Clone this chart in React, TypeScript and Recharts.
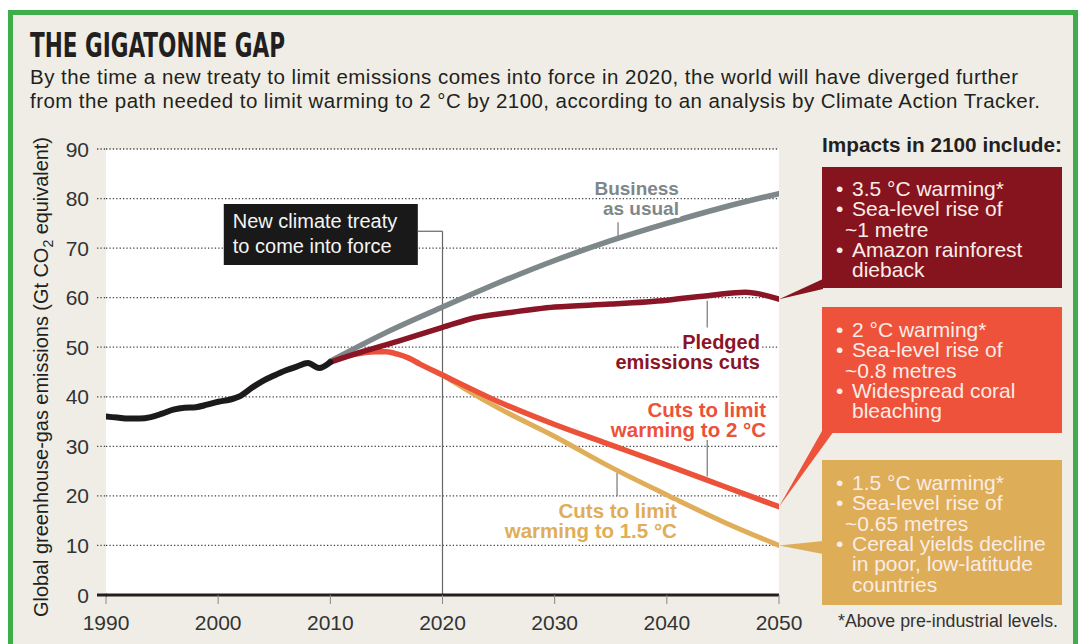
import React from 'react'
import {
  LineChart,
  Line,
  XAxis,
  YAxis,
  CartesianGrid,
  ReferenceLine,
  ReferenceArea,
  ReferenceDot,
} from 'recharts'

const FONT = '"Liberation Sans", Arial, sans-serif'
const INK = '#231f20'

// emissions, Gt CO2 equivalent
const historyYears = [1990, 1991, 1992, 1993, 1994, 1995, 1996, 1997, 1998, 1999, 2000, 2001, 2002, 2003, 2004, 2005, 2006, 2007, 2008, 2009, 2010]
const historyValues = [36.0, 35.8, 35.6, 35.6, 35.9, 36.6, 37.4, 37.8, 37.9, 38.4, 39.0, 39.4, 40.2, 41.8, 43.2, 44.3, 45.3, 46.1, 46.8, 45.8, 47.0]

const bauYears = [2010, 2015, 2020, 2025, 2030, 2035, 2040, 2045, 2050]
const bauValues = [47.2, 53.0, 58.1, 63.0, 67.5, 71.5, 75.0, 78.2, 81.0]

const pledgedYears = [2010, 2013, 2016, 2020, 2023, 2026, 2030, 2035, 2040, 2044, 2047, 2050]
const pledgedValues = [47.0, 49.2, 51.2, 54.0, 56.0, 57.0, 58.1, 58.7, 59.5, 60.5, 61.1, 59.7]

const twoDegYears = [2010, 2012, 2014, 2015, 2016, 2017, 2018, 2020, 2025, 2030, 2035, 2040, 2045, 2050]
const twoDegValues = [47.2, 48.5, 49.1, 49.1, 48.6, 47.8, 46.6, 44.4, 39.0, 34.4, 30.3, 26.2, 22.0, 17.8]

const onePointFiveYears = [2020, 2022, 2025, 2030, 2035, 2040, 2045, 2050]
const onePointFiveValues = [44.4, 41.6, 37.7, 32.0, 25.8, 20.2, 14.8, 10.0]

const xTicks = [1990, 2000, 2010, 2020, 2030, 2040, 2050]
const yTicks = [0, 10, 20, 30, 40, 50, 60, 70, 80, 90]

const subtitleLines = [
  'By the time a new treaty to limit emissions comes into force in 2020, the world will have diverged further',
  'from the path needed to limit warming to 2 °C by 2100, according to an analysis by Climate Action Tracker.',
]

const impacts35 = ['• 3.5 °C warming*', '• Sea-level rise of', '  ~1 metre', '• Amazon rainforest', '  dieback']
const impacts20 = ['• 2 °C warming*', '• Sea-level rise of', '  ~0.8 metres', '• Widespread coral', '  bleaching']
const impacts15 = ['• 1.5 °C warming*', '• Sea-level rise of', '  ~0.65 metres', '• Cereal yields decline', '  in poor, low-latitude', '  countries']

const toPoints = (years: number[], values: number[]) =>
  years.map((year, i) => ({ year, value: values[i] }))

const history = toPoints(historyYears, historyValues)
const bau = toPoints(bauYears, bauValues)
const pledged = toPoints(pledgedYears, pledgedValues)
const twoDeg = toPoints(twoDegYears, twoDegValues)
const onePointFive = toPoints(onePointFiveYears, onePointFiveValues)

const COLORS = {
  history: '#1c1a1b',
  bau: '#7e8789',
  pledged: '#8a1526',
  twoDeg: '#ec5239',
  onePointFive: '#e0ad58',
}

// eslint-disable-next-line @typescript-eslint/no-explicit-any
function YTick({ x, y, payload }: any) {
  const v = payload.value
  return (
    <g>
      <text x={x} y={y} dy={7.5} textAnchor="end" fontSize={21} fill="#333" fontFamily={FONT}>
        {v}
      </text>
      {v === 0 ? (
        <line x1={x + 8} x2={x + 18} y1={y} y2={y} stroke={INK} strokeWidth={3} />
      ) : (
        <line x1={x + 8} x2={x + 17} y1={y} y2={y} stroke="#444" strokeWidth={1.3} strokeDasharray="1.3 2.1" />
      )}
    </g>
  )
}

// eslint-disable-next-line @typescript-eslint/no-explicit-any
function XTick({ x, y, payload }: any) {
  return (
    <text x={x} y={y} dy={26} textAnchor="middle" fontSize={21} fill="#333" fontFamily={FONT}>
      {payload.value}
    </text>
  )
}

// eslint-disable-next-line @typescript-eslint/no-explicit-any
function CurveLabel({ cx, cy, lines, color, size = 20 }: any) {
  return (
    <g>
      {lines.map((l: string, i: number) => (
        <text
          key={i}
          x={cx}
          y={cy + i * 20}
          fill={color}
          fontSize={size}
          fontWeight={700}
          fontFamily={FONT}
          textAnchor="end"
          stroke="#fff"
          strokeWidth={6}
          strokeLinejoin="round"
          paintOrder="stroke"
        >
          {l}
        </text>
      ))}
    </g>
  )
}

// eslint-disable-next-line @typescript-eslint/no-explicit-any
function TreatyText({ viewBox }: any) {
  if (!viewBox) return null
  const { x, y } = viewBox
  return (
    <g fill="#f4f4f4" fontSize={20} fontFamily={FONT}>
      <text x={x + 9} y={y + 24}>New climate treaty</text>
      <text x={x + 9} y={y + 49}>to come into force</text>
    </g>
  )
}

// pointer from the end of a curve to its impacts box
// eslint-disable-next-line @typescript-eslint/no-explicit-any
const wedge = (color: string, p1: [number, number], p2: [number, number]) => (props: any) => (
  <polygon
    points={`${props.cx},${props.cy} ${p1[0]},${p1[1]} ${p2[0]},${p2[1]}`}
    fill={color}
  />
)

function ImpactBox({ x, y, w, h, fill, lines, firstBaseline }: {
  x: number; y: number; w: number; h: number; fill: string; lines: string[]; firstBaseline: number
}) {
  return (
    <g>
      <rect x={x} y={y} width={w} height={h} fill={fill} />
      {lines.map((l, i) => {
        const bullet = l.startsWith('•')
        const body = bullet ? l.slice(2) : l.trim()
        const tx = !bullet && body.startsWith('~') ? x + 23 : x + 30
        const by = firstBaseline + i * 20.3
        return (
          <g key={i} fontSize={21} fill="#fbece6" fontFamily={FONT}>
            {bullet && <text x={x + 14} y={by}>•</text>}
            <text x={tx} y={by}>{body}</text>
          </g>
        )
      })}
    </g>
  )
}

export default function App() {
  return (
    <div style={{ position: 'absolute', left: 0, top: 0, width: 1079, height: 644, overflow: 'hidden', background: '#fff' }}>
      <div
        style={{
          position: 'absolute',
          left: 8,
          top: 10,
          width: 1070,
          height: 700,
          boxSizing: 'border-box',
          border: '5px solid #3dae4a',
          borderBottom: 'none',
          background: '#efede5',
        }}
      />
      <div style={{ position: 'absolute', left: 0, top: 0 }}>
        <LineChart width={1079} height={644} margin={{ top: 149, right: 300, bottom: 19, left: 46 }}>
          <CartesianGrid
            vertical={false}
            fill="#ffffff"
            stroke="#444"
            strokeWidth={1.3}
            strokeDasharray="1.3 2.1"
          />
          <XAxis
            type="number"
            dataKey="year"
            domain={[1990, 2050]}
            ticks={xTicks}
            height={30}
            axisLine={{ stroke: INK, strokeWidth: 3 }}
            tickLine={{ stroke: '#888' }}
            tickSize={9}
            tickMargin={0}
            tick={<XTick />}
            allowDataOverflow
          />
          <YAxis
            type="number"
            domain={[0, 90]}
            ticks={yTicks}
            width={60}
            axisLine={false}
            tickLine={false}
            tickSize={0}
            tickMargin={17}
            tick={<YTick />}
            allowDataOverflow
          />

          <ReferenceArea x1={2000.5} x2={2017.8} y1={66.6} y2={78.9} fill="#1a1919" fillOpacity={1} stroke="none" label={<TreatyText />} />
          <ReferenceLine segment={[{ x: 2017.8, y: 73.4 }, { x: 2020, y: 73.4 }]} stroke="#666" strokeWidth={1.2} />
          <ReferenceLine segment={[{ x: 2020, y: 0 }, { x: 2020, y: 73.4 }]} stroke="#666" strokeWidth={1.2} />

          <ReferenceLine segment={[{ x: 2035.65, y: 72.3 }, { x: 2035.65, y: 75.2 }]} stroke="#777" strokeWidth={1.2} />
          <ReferenceLine segment={[{ x: 2043.6, y: 54.0 }, { x: 2043.6, y: 59.4 }]} stroke="#777" strokeWidth={1.2} />
          <ReferenceLine segment={[{ x: 2043.6, y: 23.9 }, { x: 2043.6, y: 31.3 }]} stroke="#777" strokeWidth={1.2} />
          <ReferenceLine segment={[{ x: 2035.56, y: 19.9 }, { x: 2035.56, y: 24.6 }]} stroke="#777" strokeWidth={1.2} />

          <ReferenceDot x={2041.08} y={80.7} r={1} ifOverflow="visible" shape={(p: any) => <CurveLabel cx={p.cx} cy={p.cy} size={19} color={COLORS.bau} lines={['Business', 'as usual']} />} />
          <ReferenceDot x={2048.3} y={49.6} r={1} ifOverflow="visible" shape={(p: any) => <CurveLabel cx={p.cx} cy={p.cy} color={COLORS.pledged} lines={['Pledged', 'emissions cuts']} />} />
          <ReferenceDot x={2048.84} y={35.9} r={1} ifOverflow="visible" shape={(p: any) => <CurveLabel cx={p.cx} cy={p.cy} size={20.5} color={COLORS.twoDeg} lines={['Cuts to limit', 'warming to 2 °C']} />} />
          <ReferenceDot x={2040.9} y={15.5} r={1} ifOverflow="visible" shape={(p: any) => <CurveLabel cx={p.cx} cy={p.cy} size={20.5} color={COLORS.onePointFive} lines={['Cuts to limit', 'warming to 1.5 °C']} />} />

          <Line data={onePointFive} dataKey="value" type="monotone" stroke={COLORS.onePointFive} strokeWidth={5} dot={false} activeDot={false} strokeLinecap="round" isAnimationActive={false} />
          <Line data={twoDeg} dataKey="value" type="monotone" stroke={COLORS.twoDeg} strokeWidth={5.5} dot={false} activeDot={false} strokeLinecap="round" isAnimationActive={false} />
          <Line data={bau} dataKey="value" type="monotone" stroke={COLORS.bau} strokeWidth={5.5} dot={false} activeDot={false} strokeLinecap="round" isAnimationActive={false} />
          <Line data={pledged} dataKey="value" type="monotone" stroke={COLORS.pledged} strokeWidth={5.5} dot={false} activeDot={false} strokeLinecap="round" isAnimationActive={false} />
          <Line data={history} dataKey="value" type="monotone" stroke={COLORS.history} strokeWidth={6} dot={false} activeDot={false} strokeLinecap="round" isAnimationActive={false} />

          <ReferenceDot x={2050} y={59.7} r={1} ifOverflow="visible" shape={wedge('#86141f', [823, 279], [823, 289])} />
          <ReferenceDot x={2050} y={17.8} r={1} ifOverflow="visible" shape={wedge('#ee523a', [822, 431], [834, 431])} />
          <ReferenceDot x={2050} y={10.0} r={1} ifOverflow="visible" shape={wedge('#ddad58', [823, 541], [823, 554])} />
        </LineChart>
      </div>

      <svg width={1079} height={644} style={{ position: 'absolute', left: 0, top: 0, pointerEvents: 'none' }}>
        <text
          x={30}
          y={57}
          fontSize={34}
          fontWeight={700}
          fill={INK}
          fontFamily={'"Liberation Sans Narrow", "DejaVu Sans Condensed", ' + FONT}
          textLength={255}
          lengthAdjust="spacingAndGlyphs"
        >
          THE GIGATONNE GAP
        </text>
        <text x={30} y={84} fontSize={20.5} fill={INK} fontFamily={FONT} textLength={988} lengthAdjust="spacing">
          {subtitleLines[0]}
        </text>
        <text x={30} y={108} fontSize={20.5} fill={INK} fontFamily={FONT} textLength={1010} lengthAdjust="spacing">
          {subtitleLines[1]}
        </text>

        <text
          transform="translate(48 377) rotate(-90)"
          textAnchor="middle"
          fontSize={20}
          fill={INK}
          fontFamily={FONT}
          textLength={480}
          lengthAdjust="spacing"
        >
          Global greenhouse-gas emissions (Gt CO<tspan fontSize={14} dy={5}>2</tspan>
          <tspan dy={-5}> equivalent)</tspan>
        </text>

        <text x={822} y={152} fontSize={20} fontWeight={700} fill={INK} fontFamily={FONT} textLength={240} lengthAdjust="spacingAndGlyphs">
          Impacts in 2100 include:
        </text>
        <ImpactBox x={822} y={167} w={240} h={121} fill="#86141f" lines={impacts35} firstBaseline={196} />
        <ImpactBox x={822} y={307} w={240} h={126} fill="#ee523a" lines={impacts20} firstBaseline={337} />
        <ImpactBox x={822} y={460} w={240} h={145} fill="#ddad58" lines={impacts15} firstBaseline={490} />

        <text x={838} y={627} fontSize={18} fill="#333" fontFamily={FONT} textLength={220} lengthAdjust="spacingAndGlyphs">
          *Above pre-industrial levels.
        </text>
      </svg>
    </div>
  )
}
